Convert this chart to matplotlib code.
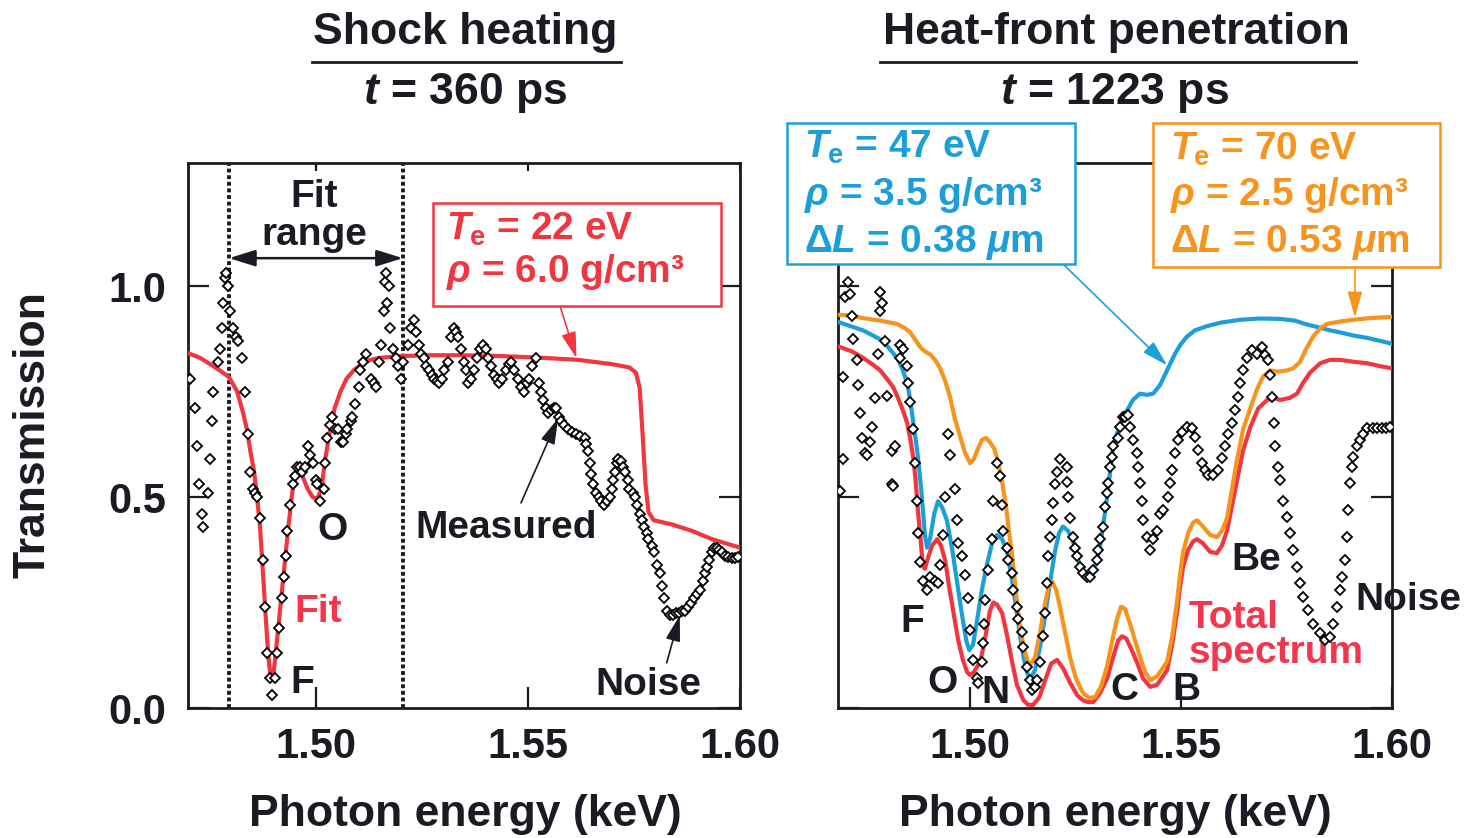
import matplotlib
matplotlib.use("Agg")
import matplotlib.pyplot as plt
from matplotlib.patches import Rectangle
from matplotlib.lines import Line2D

# ---------------------------------------------------------------------------
# Data: photon energy (keV) and transmission
# ---------------------------------------------------------------------------
shock_meas_E = [
    1.4701, 1.4713, 1.4718, 1.4723, 1.4730, 1.4732, 1.4744, 1.4749, 1.4754, 1.4756,
    1.4768, 1.4772, 1.4777, 1.4780, 1.4784, 1.4787, 1.4791, 1.4796, 1.4803, 1.4810,
    1.4815, 1.4825, 1.4832, 1.4839, 1.4844, 1.4851, 1.4855, 1.4860, 1.4867, 1.4874,
    1.4879, 1.4884, 1.4891, 1.4896, 1.4903, 1.4908, 1.4912, 1.4919, 1.4924, 1.4929,
    1.4931, 1.4938, 1.4945, 1.4950, 1.4955, 1.4962, 1.4967, 1.4974, 1.4981, 1.4986,
    1.4991, 1.4998, 1.5002, 1.5009, 1.5017, 1.5021, 1.5026, 1.5033, 1.5038, 1.5045,
    1.5050, 1.5057, 1.5062, 1.5069, 1.5073, 1.5081, 1.5085, 1.5092, 1.5100, 1.5104,
    1.5109, 1.5116, 1.5128, 1.5135, 1.5140, 1.5147, 1.5152, 1.5159, 1.5161, 1.5164,
    1.5166, 1.5171, 1.5175, 1.5182, 1.5187, 1.5192, 1.5199, 1.5204, 1.5216, 1.5223,
    1.5230, 1.5235, 1.5242, 1.5246, 1.5254, 1.5258, 1.5265, 1.5273, 1.5277, 1.5284,
    1.5289, 1.5296, 1.5301, 1.5310, 1.5318, 1.5325, 1.5329, 1.5334, 1.5341, 1.5348,
    1.5353, 1.5358, 1.5365, 1.5372, 1.5379, 1.5386, 1.5393, 1.5400, 1.5405, 1.5412,
    1.5419, 1.5427, 1.5431, 1.5438, 1.5448, 1.5455, 1.5460, 1.5467, 1.5476, 1.5483,
    1.5491, 1.5498, 1.5502, 1.5510, 1.5519, 1.5526, 1.5531, 1.5536, 1.5543, 1.5547,
    1.5555, 1.5562, 1.5566, 1.5573, 1.5578, 1.5585, 1.5595, 1.5604, 1.5614, 1.5623,
    1.5633, 1.5637, 1.5642, 1.5645, 1.5649, 1.5654, 1.5661, 1.5666, 1.5673, 1.5680,
    1.5687, 1.5692, 1.5697, 1.5701, 1.5706, 1.5709, 1.5713, 1.5718, 1.5723, 1.5728,
    1.5735, 1.5739, 1.5747, 1.5751, 1.5758, 1.5763, 1.5768, 1.5773, 1.5780, 1.5784,
    1.5792, 1.5796, 1.5803, 1.5811, 1.5815, 1.5820, 1.5827, 1.5834, 1.5841, 1.5848,
    1.5855, 1.5863, 1.5870, 1.5877, 1.5884, 1.5891, 1.5898, 1.5905, 1.5912, 1.5917,
    1.5922, 1.5927, 1.5934, 1.5938, 1.5946, 1.5950, 1.5957, 1.5965, 1.5972, 1.5981,
    1.5988, 1.5995,
]
shock_meas_T = [
    0.78, 0.71, 0.62, 0.53, 0.46, 0.43, 0.51, 0.59, 0.68, 0.75,
    0.82, 0.85, 0.90, 0.96, 1.02, 1.03, 1.00, 0.94, 0.90, 0.88,
    0.87, 0.83, 0.75, 0.65, 0.56, 0.52, 0.51, 0.50, 0.45, 0.35,
    0.24, 0.13, 0.07, 0.03, 0.07, 0.13, 0.19, 0.26, 0.31, 0.36,
    0.42, 0.48, 0.53, 0.55, 0.57, 0.57, 0.56, 0.57, 0.62, 0.60,
    0.58, 0.54, 0.53, 0.49, 0.52, 0.58, 0.64, 0.67, 0.69, 0.66,
    0.66, 0.63, 0.63, 0.65, 0.66, 0.68, 0.69, 0.72, 0.76, 0.80,
    0.82, 0.84, 0.78, 0.77, 0.76, 0.82, 0.86, 0.94, 1.01, 1.03,
    0.96, 1.00, 0.90, 0.85, 0.83, 0.81, 0.78, 0.82, 0.86, 0.90,
    0.92, 0.89, 0.86, 0.84, 0.83, 0.81, 0.80, 0.79, 0.78, 0.775,
    0.77, 0.78, 0.80, 0.82, 0.88, 0.90, 0.89, 0.88, 0.85, 0.82,
    0.80, 0.77, 0.78, 0.80, 0.83, 0.85, 0.86, 0.85, 0.83, 0.81,
    0.79, 0.78, 0.77, 0.78, 0.80, 0.815, 0.82, 0.80, 0.78, 0.76,
    0.75, 0.77, 0.78, 0.81, 0.83, 0.77, 0.75, 0.73, 0.71, 0.70,
    0.705, 0.71, 0.71, 0.69, 0.68, 0.67, 0.66, 0.655, 0.65, 0.645,
    0.64, 0.625, 0.61, 0.58, 0.555, 0.53, 0.51, 0.50, 0.49, 0.48,
    0.49, 0.50, 0.52, 0.54, 0.56, 0.58, 0.59, 0.585, 0.57, 0.56,
    0.54, 0.52, 0.51, 0.50, 0.48, 0.46, 0.445, 0.43, 0.415, 0.40,
    0.385, 0.37, 0.34, 0.32, 0.29, 0.26, 0.23, 0.22, 0.22, 0.225,
    0.225, 0.23, 0.23, 0.24, 0.25, 0.26, 0.27, 0.28, 0.30, 0.32,
    0.335, 0.35, 0.37, 0.38, 0.38, 0.375, 0.37, 0.36, 0.358, 0.355,
    0.356, 0.358,
]

shock_fit_E = [
    1.4697, 1.4725, 1.4749, 1.4772, 1.4794, 1.4813, 1.4827, 1.4836, 1.4844, 1.4853,
    1.4860, 1.4867, 1.4872, 1.4879, 1.4884, 1.4889, 1.4893, 1.4898, 1.4903, 1.4910,
    1.4922, 1.4934, 1.4943, 1.4950, 1.4957, 1.4967, 1.4979, 1.4991, 1.5002, 1.5012,
    1.5021, 1.5031, 1.5043, 1.5057, 1.5071, 1.5088, 1.5104, 1.5128, 1.5152, 1.5199,
    1.5270, 1.5341, 1.5436, 1.5531, 1.5618, 1.5697, 1.5739, 1.5754, 1.5763, 1.5770,
    1.5777, 1.5784, 1.5796, 1.5839, 1.5886, 1.5934, 1.6000,
]
shock_fit_T = [
    0.841, 0.83, 0.815, 0.80, 0.784, 0.75, 0.70, 0.66, 0.61, 0.56,
    0.50, 0.43, 0.35, 0.24, 0.16, 0.10, 0.065, 0.075, 0.12, 0.19,
    0.31, 0.43, 0.51, 0.55, 0.56, 0.55, 0.52, 0.50, 0.495, 0.52,
    0.59, 0.65, 0.71, 0.75, 0.78, 0.80, 0.813, 0.825, 0.83, 0.834,
    0.836, 0.836, 0.834, 0.83, 0.825, 0.815, 0.807, 0.795, 0.76, 0.65,
    0.53, 0.465, 0.445, 0.435, 0.42, 0.40, 0.38,
]
fit_range = [1.4794, 1.5204]

heat_meas_E = [
    1.4692, 1.4699, 1.4699, 1.4704, 1.4711, 1.4716, 1.4720, 1.4723, 1.4732, 1.4735,
    1.4739, 1.4744, 1.4751, 1.4756, 1.4763, 1.4768, 1.4775, 1.4782, 1.4787, 1.4787,
    1.4791, 1.4799, 1.4803, 1.4815, 1.4815, 1.4818, 1.4822, 1.4834, 1.4834, 1.4841,
    1.4851, 1.4853, 1.4858, 1.4865, 1.4870, 1.4874, 1.4877, 1.4882, 1.4889, 1.4898,
    1.4905, 1.4917, 1.4924, 1.4929, 1.4936, 1.4941, 1.4948, 1.4953, 1.4964, 1.4969,
    1.4972, 1.4981, 1.4988, 1.4995, 1.5000, 1.5007, 1.5017, 1.5019, 1.5028, 1.5031,
    1.5033, 1.5036, 1.5043, 1.5052, 1.5055, 1.5064, 1.5071, 1.5076, 1.5078, 1.5088,
    1.5090, 1.5100, 1.5102, 1.5111, 1.5114, 1.5123, 1.5126, 1.5135, 1.5142, 1.5147,
    1.5154, 1.5159, 1.5166, 1.5173, 1.5178, 1.5182, 1.5185, 1.5190, 1.5194, 1.5197,
    1.5201, 1.5206, 1.5213, 1.5230, 1.5230, 1.5232, 1.5237, 1.5244, 1.5249, 1.5254,
    1.5261, 1.5268, 1.5277, 1.5284, 1.5292, 1.5301, 1.5303, 1.5308, 1.5315, 1.5320,
    1.5325, 1.5327, 1.5332, 1.5337, 1.5339, 1.5351, 1.5356, 1.5363, 1.5367, 1.5374,
    1.5379, 1.5386, 1.5396, 1.5398, 1.5403, 1.5408, 1.5410, 1.5419, 1.5427, 1.5434,
    1.5443, 1.5450, 1.5457, 1.5469, 1.5474, 1.5479, 1.5486, 1.5493, 1.5502, 1.5514,
    1.5526, 1.5533, 1.5540, 1.5550, 1.5557, 1.5564, 1.5576, 1.5588, 1.5597, 1.5604,
    1.5611, 1.5621, 1.5628, 1.5635, 1.5640, 1.5647, 1.5656, 1.5668, 1.5680, 1.5692,
    1.5699, 1.5706, 1.5711, 1.5716, 1.5720, 1.5723, 1.5730, 1.5735, 1.5742, 1.5751,
    1.5758, 1.5766, 1.5775, 1.5782, 1.5789, 1.5801, 1.5813, 1.5830, 1.5841, 1.5853,
    1.5860, 1.5870, 1.5877, 1.5882, 1.5889, 1.5893, 1.5896, 1.5901, 1.5905, 1.5908,
    1.5917, 1.5924, 1.5931, 1.5941, 1.5955, 1.5965, 1.5976, 1.5986, 1.5995,
]
heat_meas_T = [
    0.515, 0.785, 0.59, 0.975, 1.01, 0.98, 0.93, 0.875, 0.825, 0.765,
    0.70, 0.64, 0.605, 0.60, 0.63, 0.665, 0.735, 0.84, 0.985, 0.94,
    0.96, 0.87, 0.74, 0.61, 0.53, 0.525, 0.62, 0.86, 0.83, 0.85,
    0.81, 0.77, 0.725, 0.66, 0.58, 0.49, 0.415, 0.346, 0.30, 0.28,
    0.31, 0.30, 0.296, 0.34, 0.41, 0.50, 0.65, 0.60, 0.52, 0.445,
    0.39, 0.36, 0.315, 0.26, 0.185, 0.114, 0.07, 0.06, 0.11, 0.155,
    0.20, 0.256, 0.327, 0.40, 0.49, 0.58, 0.55, 0.48, 0.42, 0.38,
    0.35, 0.32, 0.28, 0.24, 0.21, 0.18, 0.145, 0.098, 0.066, 0.043,
    0.05, 0.066, 0.11, 0.17, 0.225, 0.296, 0.36, 0.405, 0.445, 0.486,
    0.53, 0.56, 0.59, 0.57, 0.535, 0.50, 0.45, 0.405, 0.38, 0.36,
    0.335, 0.32, 0.31, 0.31, 0.327, 0.35, 0.375, 0.40, 0.43, 0.476,
    0.51, 0.533, 0.57, 0.595, 0.62, 0.64, 0.665, 0.69, 0.69, 0.694,
    0.665, 0.635, 0.604, 0.57, 0.533, 0.49, 0.445, 0.405, 0.374, 0.40,
    0.42, 0.46, 0.47, 0.50, 0.533, 0.564, 0.604, 0.635, 0.654, 0.665,
    0.663, 0.642, 0.611, 0.58, 0.564, 0.552, 0.552, 0.564, 0.592, 0.62,
    0.65, 0.675, 0.706, 0.737, 0.77, 0.80, 0.83, 0.848, 0.84, 0.855,
    0.836, 0.825, 0.79, 0.737, 0.675, 0.62, 0.57, 0.54, 0.49, 0.453,
    0.415, 0.374, 0.334, 0.296, 0.263, 0.232, 0.20, 0.178, 0.16, 0.168,
    0.20, 0.24, 0.28, 0.31, 0.35, 0.405, 0.47, 0.533, 0.57, 0.595,
    0.62, 0.635, 0.65, 0.663, 0.663, 0.663, 0.663, 0.664, 0.665,
]

# Total spectrum (red)
heat_total_E = [
    1.4687, 1.4720, 1.4746, 1.4768, 1.4787, 1.4803, 1.4818, 1.4829, 1.4841, 1.4851,
    1.4858, 1.4865, 1.4870, 1.4874, 1.4877, 1.4882, 1.4886, 1.4889, 1.4893, 1.4900,
    1.4910, 1.4922, 1.4931, 1.4941, 1.4950, 1.4960, 1.4972, 1.4983, 1.4993, 1.5000,
    1.5009, 1.5024, 1.5033, 1.5040, 1.5047, 1.5055, 1.5064, 1.5076, 1.5088, 1.5100,
    1.5111, 1.5126, 1.5137, 1.5149, 1.5164, 1.5178, 1.5192, 1.5206, 1.5220, 1.5237,
    1.5254, 1.5268, 1.5280, 1.5292, 1.5308, 1.5325, 1.5339, 1.5351, 1.5360, 1.5370,
    1.5382, 1.5396, 1.5410, 1.5427, 1.5443, 1.5457, 1.5467, 1.5479, 1.5491, 1.5498,
    1.5505, 1.5517, 1.5529, 1.5538, 1.5552, 1.5569, 1.5585, 1.5597, 1.5609, 1.5621,
    1.5633, 1.5647, 1.5664, 1.5683, 1.5704, 1.5718, 1.5735, 1.5758, 1.5775, 1.5789,
    1.5806, 1.5830, 1.5853, 1.5877, 1.5912, 1.5941, 1.5972, 1.6000,
]
heat_total_T = [
    0.857, 0.845, 0.83, 0.815, 0.80, 0.78, 0.76, 0.735, 0.705, 0.675,
    0.64, 0.595, 0.55, 0.50, 0.46, 0.41, 0.36, 0.335, 0.33, 0.355,
    0.385, 0.40, 0.385, 0.35, 0.29, 0.23, 0.16, 0.114, 0.085, 0.078,
    0.085, 0.11, 0.15, 0.19, 0.23, 0.25, 0.245, 0.225, 0.17, 0.107,
    0.055, 0.019, 0.008, 0.007, 0.025, 0.066, 0.105, 0.114, 0.095, 0.06,
    0.03, 0.018, 0.014, 0.014, 0.035, 0.07, 0.12, 0.16, 0.17, 0.165,
    0.14, 0.107, 0.07, 0.05, 0.055, 0.075, 0.09, 0.15, 0.23, 0.29,
    0.335, 0.375, 0.395, 0.40, 0.39, 0.37, 0.367, 0.385, 0.42, 0.48,
    0.54, 0.61, 0.665, 0.71, 0.73, 0.735, 0.73, 0.735, 0.745, 0.77,
    0.795, 0.817, 0.825, 0.825, 0.82, 0.817, 0.81, 0.805,
]

# Te = 47 eV component (blue)
heat_47_E = [
    1.4687, 1.4716, 1.4746, 1.4775, 1.4794, 1.4810, 1.4827, 1.4839, 1.4851, 1.4858,
    1.4865, 1.4872, 1.4877, 1.4884, 1.4889, 1.4893, 1.4898, 1.4905, 1.4915, 1.4924,
    1.4934, 1.4945, 1.4957, 1.4969, 1.4981, 1.4991, 1.4998, 1.5007, 1.5017, 1.5028,
    1.5040, 1.5052, 1.5064, 1.5076, 1.5088, 1.5100, 1.5111, 1.5123, 1.5133, 1.5142,
    1.5154, 1.5166, 1.5178, 1.5190, 1.5201, 1.5211, 1.5220, 1.5232, 1.5244, 1.5254,
    1.5265, 1.5277, 1.5289, 1.5301, 1.5308, 1.5315, 1.5325, 1.5332, 1.5339, 1.5348,
    1.5360, 1.5372, 1.5386, 1.5403, 1.5419, 1.5434, 1.5450, 1.5462, 1.5474, 1.5486,
    1.5498, 1.5514, 1.5533, 1.5562, 1.5593, 1.5640, 1.5687, 1.5735, 1.5770, 1.5794,
    1.5822, 1.5853, 1.5877, 1.5912, 1.5941, 1.5972, 1.6000,
]
heat_47_T = [
    0.915, 0.905, 0.895, 0.88, 0.87, 0.85, 0.83, 0.805, 0.77, 0.73,
    0.68, 0.63, 0.59, 0.52, 0.46, 0.41, 0.38, 0.40, 0.46, 0.49,
    0.475, 0.445, 0.38, 0.30, 0.22, 0.16, 0.137, 0.15, 0.21, 0.28,
    0.34, 0.39, 0.41, 0.40, 0.37, 0.30, 0.225, 0.14, 0.09, 0.066,
    0.09, 0.145, 0.22, 0.30, 0.37, 0.415, 0.43, 0.42, 0.395, 0.36,
    0.32, 0.305, 0.32, 0.35, 0.38, 0.43, 0.50, 0.56, 0.62, 0.65,
    0.685, 0.705, 0.73, 0.745, 0.742, 0.745, 0.765, 0.79, 0.815, 0.84,
    0.86, 0.88, 0.895, 0.905, 0.913, 0.92, 0.923, 0.922, 0.918, 0.91,
    0.903, 0.895, 0.89, 0.882, 0.877, 0.87, 0.863,
]

# Te = 70 eV component (orange)
heat_70_E = [
    1.4687, 1.4716, 1.4746, 1.4787, 1.4827, 1.4846, 1.4858, 1.4870, 1.4882, 1.4893,
    1.4905, 1.4917, 1.4929, 1.4941, 1.4953, 1.4964, 1.4976, 1.4988, 1.5000, 1.5009,
    1.5019, 1.5028, 1.5038, 1.5047, 1.5057, 1.5066, 1.5076, 1.5085, 1.5092, 1.5100,
    1.5109, 1.5119, 1.5128, 1.5137, 1.5145, 1.5154, 1.5166, 1.5178, 1.5187, 1.5194,
    1.5204, 1.5213, 1.5225, 1.5237, 1.5251, 1.5268, 1.5282, 1.5296, 1.5310, 1.5325,
    1.5337, 1.5348, 1.5358, 1.5367, 1.5379, 1.5391, 1.5403, 1.5415, 1.5427, 1.5443,
    1.5457, 1.5467, 1.5479, 1.5491, 1.5498, 1.5505, 1.5517, 1.5529, 1.5538, 1.5552,
    1.5569, 1.5585, 1.5597, 1.5609, 1.5621, 1.5633, 1.5647, 1.5664, 1.5680, 1.5694,
    1.5711, 1.5730, 1.5751, 1.5766, 1.5782, 1.5796, 1.5813, 1.5830, 1.5846, 1.5877,
    1.5908, 1.5948, 1.6000,
]
heat_70_T = [
    0.932, 0.93, 0.924, 0.918, 0.91, 0.90, 0.89, 0.873, 0.855, 0.845,
    0.838, 0.825, 0.805, 0.775, 0.735, 0.685, 0.645, 0.605, 0.58, 0.59,
    0.615, 0.635, 0.64, 0.63, 0.615, 0.585, 0.535, 0.48, 0.42, 0.36,
    0.27, 0.19, 0.14, 0.11, 0.105, 0.12, 0.18, 0.25, 0.29, 0.30,
    0.28, 0.24, 0.18, 0.12, 0.07, 0.035, 0.024, 0.026, 0.05, 0.10,
    0.16, 0.21, 0.24, 0.235, 0.20, 0.16, 0.12, 0.085, 0.066, 0.075,
    0.095, 0.11, 0.17, 0.256, 0.32, 0.37, 0.415, 0.44, 0.445, 0.43,
    0.41, 0.405, 0.42, 0.45, 0.52, 0.59, 0.66, 0.71, 0.755, 0.785,
    0.80, 0.797, 0.80, 0.805, 0.82, 0.85, 0.88, 0.90, 0.91, 0.916,
    0.92, 0.924, 0.927,
]

x_ticks = [1.50, 1.55, 1.60]
x_ticklabels = ["1.50", "1.55", "1.60"]
y_ticks = [0.0, 0.5, 1.0]
y_ticklabels = ["0.0", "0.5", "1.0"]

# ---------------------------------------------------------------------------
# Style
# ---------------------------------------------------------------------------
plt.rcParams["font.family"] = ["Liberation Sans", "DejaVu Sans"]
plt.rcParams["font.weight"] = "bold"
plt.rcParams["mathtext.fontset"] = "custom"
plt.rcParams["mathtext.rm"] = "Liberation Sans:bold"
plt.rcParams["mathtext.bf"] = "Liberation Sans:bold"
plt.rcParams["mathtext.it"] = "Liberation Sans:italic:bold"
plt.rcParams["mathtext.sf"] = "Liberation Sans:bold"

INK = "#1c1a22"
RED = "#f2363f"
RED_TXT = "#f2364d"
BLUE = "#1c9fd9"
ORANGE = "#f7941d"

W, H = 1466, 838
fig = plt.figure(figsize=(W / 100, H / 100), dpi=100)


def fx(px):
    return px / W


def fy(py):
    return 1 - py / H


def axes_rect(x0, y0, x1, y1):
    return [fx(x0), fy(y1), fx(x1) - fx(x0), fy(y0) - fy(y1)]


axL = fig.add_axes(axes_rect(188, 163, 740, 708))
axR = fig.add_axes(axes_rect(838, 163, 1392, 708))

for ax, xlo in ((axL, 1.4697), (axR, 1.4687)):
    ax.set_xlim(xlo, 1.60)
    ax.set_ylim(0, 1.2915)
    ax.set_xticks(x_ticks)
    ax.set_yticks(y_ticks)
    for s in ax.spines.values():
        s.set_linewidth(2.0)
        s.set_color(INK)
    ax.tick_params(axis="both", direction="in", length=15, width=1.6,
                   color=INK, labelcolor=INK, labelsize=30,
                   left=True, right=True, bottom=True, top=False)
    ax.tick_params(axis="x", pad=14)
    ax.tick_params(axis="y", pad=16)
    top = ax.secondary_xaxis("top")
    top.set_xticks(x_ticks)
    top.tick_params(direction="in", length=6, width=1.6, color=INK, labeltop=False)
    top.spines["top"].set_visible(False)

axL.set_xticklabels(x_ticklabels, fontweight="bold")
axL.set_yticklabels(y_ticklabels, fontweight="bold")
axR.set_xticklabels(x_ticklabels, fontweight="bold")
axR.set_yticklabels([])

mk = dict(linestyle="none", marker="D", markersize=5.0, markerfacecolor="white",
          markeredgecolor="black", markeredgewidth=1.3, zorder=5)

# ---- Left panel: shock heating ----
for e in fit_range:
    axL.axvline(e, color=INK, lw=2.8, linestyle=(0, (1.0, 0.7)), zorder=2)
axL.plot(shock_fit_E, shock_fit_T, color=RED, lw=3.0, zorder=3, solid_joinstyle="round")
axL.plot(shock_meas_E, shock_meas_T, **mk)

axL.annotate("", xy=(fit_range[0], 1.066), xytext=(fit_range[1], 1.066),
             arrowprops=dict(arrowstyle="<|-|>,head_length=1.6,head_width=0.5",
                             mutation_scale=10, lw=1.8, color=INK,
                             shrinkA=0, shrinkB=0))
axL.text(1.4995, 1.187, "Fit", ha="center", va="baseline", fontsize=28, color=INK)
axL.text(1.4995, 1.097, "range", ha="center", va="baseline", fontsize=28, color=INK)

axL.text(1.5038, 0.398, "O", ha="center", va="baseline", fontsize=28, color=INK)
axL.text(1.5448, 0.403, "Measured", ha="center", va="baseline", fontsize=28, color=INK)
axL.text(1.5005, 0.204, "Fit", ha="center", va="baseline", fontsize=28, color=RED_TXT)
axL.text(1.4967, 0.036, "F", ha="center", va="baseline", fontsize=28, color=INK)
axL.text(1.5784, 0.031, "Noise", ha="center", va="baseline", fontsize=28, color=INK)

thin_arrow = dict(arrowstyle="-|>,head_length=1.6,head_width=0.45",
                  mutation_scale=10, lw=1.2, shrinkA=0, shrinkB=0)
axL.annotate("", xy=(1.5571, 0.687), xytext=(1.5483, 0.486),
             arrowprops=dict(color=INK, **thin_arrow))
axL.annotate("", xy=(1.5858, 0.220), xytext=(1.5827, 0.107),
             arrowprops=dict(color=INK, **thin_arrow))
axL.annotate("", xy=(1.5614, 0.829), xycoords="data",
             xytext=(fx(560), fy(306)), textcoords="figure fraction",
             arrowprops=dict(color=RED, **thin_arrow))

# ---- Right panel: heat-front penetration ----
axR.plot(heat_total_E, heat_total_T, color=RED, lw=3.0, zorder=3)
axR.plot(heat_47_E, heat_47_T, color=BLUE, lw=3.0, zorder=3)
axR.plot(heat_70_E, heat_70_T, color=ORANGE, lw=3.0, zorder=3)
axR.plot(heat_meas_E, heat_meas_T, **mk)

for label, e, t in (("F", 1.4863, 0.180), ("O", 1.4934, 0.036), ("N", 1.5059, 0.012),
                    ("C", 1.5365, 0.019), ("B", 1.5512, 0.019), ("Be", 1.5678, 0.327),
                    ("Noise", 1.6038, 0.232)):
    axR.text(e, t, label, ha="center", va="baseline", fontsize=28, color=INK,
             clip_on=False)
axR.text(1.5517, 0.190, "Total", ha="left", va="baseline", fontsize=28, color=RED_TXT)
axR.text(1.5517, 0.107, "spectrum", ha="left", va="baseline", fontsize=28, color=RED_TXT)

axR.annotate("", xy=(1.5467, 0.812), xycoords="data",
             xytext=(fx(1062), fy(263)), textcoords="figure fraction",
             arrowprops=dict(color=BLUE, **thin_arrow))
axR.annotate("", xy=(1.5912, 0.925), xycoords="data",
             xytext=(fx(1355), fy(267)), textcoords="figure fraction",
             arrowprops=dict(color=ORANGE, **thin_arrow))

# ---- Parameter boxes ----
def param_box(x0, y0, x1, y1, color, lines, text_x, baselines):
    fig.add_artist(Rectangle((fx(x0), fy(y1)), fx(x1) - fx(x0), fy(y0) - fy(y1),
                             transform=fig.transFigure, facecolor="white",
                             edgecolor=color, lw=1.8, zorder=4))
    for txt, b in zip(lines, baselines):
        fig.text(fx(text_x), fy(b), txt, ha="left", va="baseline", fontsize=28,
                 color=color, zorder=5)


param_box(433, 203, 721, 306, RED,
          [r"$T_{\mathrm{e}}$ = 22 eV", r"$\rho$ = 6.0 g/cm³"],
          446, [240, 282])
param_box(787, 123, 1075, 264, BLUE,
          [r"$T_{\mathrm{e}}$ = 47 eV", r"$\rho$ = 3.5 g/cm³",
           r"$\Delta L$ = 0.38 $\mu$m"],
          804, [158, 205, 252])
param_box(1153, 123, 1440, 267, ORANGE,
          [r"$T_{\mathrm{e}}$ = 70 eV", r"$\rho$ = 2.5 g/cm³",
           r"$\Delta L$ = 0.53 $\mu$m"],
          1170, [160, 205, 252])

# ---- Titles and axis labels ----
fig.text(fx(465), fy(44), "Shock heating", ha="center", va="baseline", fontsize=32, color=INK)
fig.add_artist(Line2D([fx(312), fx(621)], [fy(62), fy(62)], transform=fig.transFigure,
                      color=INK, lw=2))
fig.text(fx(465), fy(104), r"$t$ = 360 ps", ha="center", va="baseline", fontsize=32, color=INK)

fig.text(fx(1116), fy(44), "Heat-front penetration", ha="center", va="baseline",
         fontsize=32, color=INK)
fig.add_artist(Line2D([fx(880), fx(1356)], [fy(62), fy(62)], transform=fig.transFigure,
                      color=INK, lw=2))
fig.text(fx(1114), fy(104), r"$t$ = 1223 ps", ha="center", va="baseline", fontsize=32, color=INK)

fig.text(fx(465), fy(826), "Photon energy (keV)", ha="center", va="baseline", fontsize=32, color=INK)
fig.text(fx(1115), fy(826), "Photon energy (keV)", ha="center", va="baseline", fontsize=32, color=INK)
fig.text(fx(33), fy(435), "Transmission", ha="center", va="center", rotation=90,
         fontsize=32, color=INK)

fig.savefig("out.png", dpi=100, facecolor="white")
